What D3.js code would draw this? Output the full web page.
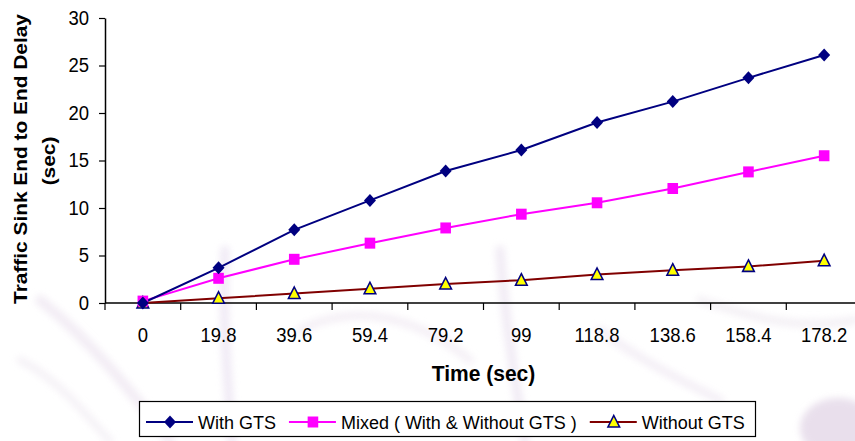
<!DOCTYPE html>
<html>
<head>
<meta charset="utf-8">
<script src="https://cdn.jsdelivr.net/npm/d3@7"></script>
<style>
  html, body { margin: 0; padding: 0; background: #ffffff; }
  svg { display: block; }
  text { font-family: "Liberation Sans", Arial, sans-serif; fill: #000; }
</style>
</head>
<body>
<svg id="chart" width="855" height="441"></svg>
<script>
// Sample times (sec) along the x axis
const times = ["0", "19.8", "39.6", "59.4", "79.2", "99", "118.8", "138.6", "158.4", "178.2"];

// End-to-end delay (sec) per scenario
const withGTS    = [0, 3.7, 7.7, 10.8, 13.9, 16.1, 19.0, 21.2, 23.7, 26.1];
const mixedGTS   = [0.2, 2.6, 4.6, 6.3, 7.9, 9.35, 10.55, 12.05, 13.8, 15.5];
const withoutGTS = [0, 0.5, 1.0, 1.5, 2.0, 2.4, 3.0, 3.45, 3.85, 4.45];

const seriesNames = ["With GTS", "Mixed ( With & Without GTS )", "Without GTS"];
const yTicks = [0, 5, 10, 15, 20, 25, 30];

const svg = d3.select("#chart");

// faint background artwork
const defs = svg.append("defs");
defs.append("filter").attr("id", "soft")
  .append("feGaussianBlur").attr("stdDeviation", 3.5);
const bg = svg.append("g").attr("filter", "url(#soft)").attr("fill", "none").attr("opacity", 0.75);
const wash = [
  {d: "M40,300 C90,340 130,390 170,441", w: 10, c: "#eee6f1"},
  {d: "M225,250 C222,320 228,380 232,441", w: 9, c: "#ebe3f2"},
  {d: "M300,330 C360,300 420,320 470,360", w: 8, c: "#f1eaf3"},
  {d: "M500,250 C505,320 515,380 525,441", w: 9, c: "#ece4f1"},
  {d: "M600,330 C640,360 680,380 720,400", w: 8, c: "#f0e9f3"},
  {d: "M20,360 C60,380 90,420 110,441", w: 7, c: "#f1ecf3"},
  {d: "M700,300 C760,320 800,330 855,320", w: 8, c: "#f0ebf2"}
];
wash.forEach(s => bg.append("path").attr("d", s.d)
  .attr("stroke", s.c).attr("stroke-width", s.w).attr("stroke-linecap", "round"));
bg.append("ellipse").attr("cx", 838).attr("cy", 428).attr("rx", 38).attr("ry", 30)
  .attr("fill", "#e2d5e6");

const plotLeft = 105, plotRight = 862, plotTop = 18, plotBottom = 303;

const x = d3.scaleBand().domain(times).range([plotLeft, plotRight]).padding(0);
const y = d3.scaleLinear().domain([0, 30]).range([plotBottom, plotTop]);

// y axis
const yAxis = svg.append("g")
  .attr("transform", `translate(${plotLeft},0)`)
  .call(d3.axisLeft(y).tickValues(yTicks).tickSize(6).tickPadding(10).tickSizeOuter(0));
yAxis.select(".domain").attr("stroke", "#000").attr("stroke-width", 1.5);
yAxis.selectAll(".tick line").attr("stroke", "#000").attr("stroke-width", 1.2);
yAxis.selectAll(".tick text")
  .attr("font-size", "18.5px")
  .attr("font-family", "Liberation Sans, Arial, sans-serif")
  .attr("transform", "scale(1,1.08)")
  .attr("fill", "#000");

// x axis: line, ticks on category boundaries, labels at category centres
const xg = svg.append("g");
xg.append("line")
  .attr("x1", plotLeft).attr("x2", plotRight).attr("y1", y(0)).attr("y2", y(0))
  .attr("stroke", "#000").attr("stroke-width", 1.5);
const bounds = d3.range(times.length + 1).map(i => plotLeft + i * x.step());
xg.selectAll("line.tk").data(bounds).join("line").attr("class", "tk")
  .attr("x1", d => d).attr("x2", d => d)
  .attr("y1", y(0)).attr("y2", y(0) + 7)
  .attr("stroke", "#000").attr("stroke-width", 1.2);
xg.selectAll("text.lbl").data(times).join("text").attr("class", "lbl")
  .attr("transform", d => `translate(${x(d) + x.bandwidth() / 2},341.5) scale(1,1.08)`)
  .attr("text-anchor", "middle")
  .attr("font-size", "18.5px")
  .text(d => d);

// axis titles
svg.append("text")
  .attr("transform", `translate(${(plotLeft + plotRight) / 2},381) scale(1,1.05)`)
  .attr("text-anchor", "middle")
  .attr("font-size", "21px").attr("font-weight", "bold")
  .text("Time (sec)");
svg.append("text")
  .attr("transform", "translate(27,159) rotate(-90) scale(1.16,1)")
  .attr("text-anchor", "middle")
  .attr("font-size", "18px").attr("font-weight", "bold")
  .text("Traffic Sink End to End Delay");
svg.append("text")
  .attr("transform", "translate(55,161) rotate(-90) scale(1.16,1)")
  .attr("text-anchor", "middle")
  .attr("font-size", "18px").attr("font-weight", "bold")
  .text("(sec)");

// marker shapes
const shapes = {
  diamond: "M0,-6.5L6,0L0,6.5L-6,0Z",
  square: "M-5.3,-5.5H5.3V5.5H-5.3Z",
  triangle: "M0,-6.5L5.8,5L-5.8,5Z"
};

const series = [
  {name: seriesNames[0], values: withGTS, line: "#000080", shape: "diamond", fill: "#000080", stroke: "none"},
  {name: seriesNames[1], values: mixedGTS, line: "#ff00ff", shape: "square", fill: "#ff00ff", stroke: "none"},
  {name: seriesNames[2], values: withoutGTS, line: "#800000", shape: "triangle", fill: "#ffff00", stroke: "#000080"}
];

const line = d3.line()
  .x((d, i) => x(times[i]) + x.bandwidth() / 2)
  .y(d => y(d));

// lines drawn first, then markers
[...series].reverse().forEach(s => {
  svg.append("path").datum(s.values)
    .attr("d", line)
    .attr("fill", "none")
    .attr("stroke", s.line)
    .attr("stroke-width", 2);
});
[...series].reverse().forEach(s => {
  svg.append("g").selectAll("path").data(s.values).join("path")
    .attr("transform", (d, i) => `translate(${x(times[i]) + x.bandwidth() / 2},${y(d)})`)
    .attr("d", shapes[s.shape])
    .attr("fill", s.fill)
    .attr("stroke", s.stroke)
    .attr("stroke-width", s.stroke === "none" ? 0 : 1.6)
    .attr("stroke-linejoin", "miter");
});

// legend
const lg = svg.append("g");
lg.append("rect")
  .attr("x", 139.5).attr("y", 401.5).attr("width", 616).attr("height", 35)
  .attr("fill", "#fff").attr("stroke", "#000").attr("stroke-width", 1.2);
let cx = 146;
const ly = 422;
series.forEach(s => {
  lg.append("line").attr("x1", cx).attr("x2", cx + 47).attr("y1", ly).attr("y2", ly)
    .attr("stroke", s.line).attr("stroke-width", 2);
  lg.append("path").attr("transform", `translate(${cx + 24},${ly})`)
    .attr("d", shapes[s.shape]).attr("fill", s.fill)
    .attr("stroke", s.stroke).attr("stroke-width", s.stroke === "none" ? 0 : 1.6);
  const t = lg.append("text")
    .attr("transform", `translate(${cx + 52},${ly + 6.5}) scale(1,1.06)`)
    .attr("font-size", "18px").text(s.name);
  cx = cx + 52 + t.node().getComputedTextLength() + 13;
});
</script>
</body>
</html>
